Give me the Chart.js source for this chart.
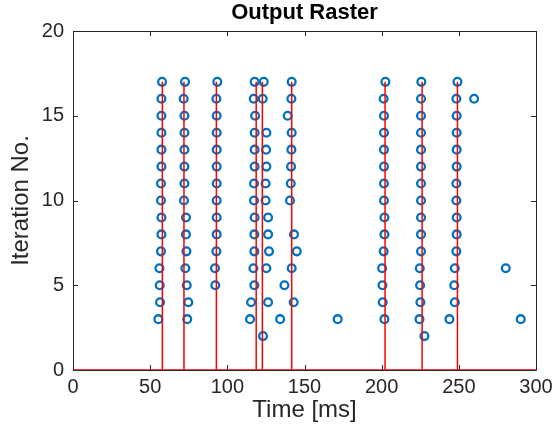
<!DOCTYPE html>
<html>
<head>
<meta charset="utf-8">
<script src="https://cdn.jsdelivr.net/npm/chart.js@4.4.1/dist/chart.umd.min.js"></script>
<style>
  html, body { margin: 0; padding: 0; background: #fff; }
</style>
</head>
<body>
<canvas id="raster" width="553" height="442"></canvas>
<script>
var row17 = [57.7, 72.6, 93.5, 117.7, 123.6, 141.7, 202.4, 225.7, 249.1];
var row16 = [57.3, 71.7, 92.9, 117.1, 122.9, 141.5, 201.3, 225.5, 248.4, 259.9];
var row15 = [57.3, 72.2, 93.1, 118.0, 139.1, 201.5, 225.5, 248.6];
var row14 = [57.3, 72.2, 93.1, 117.7, 125.3, 141.7, 201.5, 225.5, 248.6];
var row13 = [57.3, 72.2, 93.1, 117.7, 125.1, 141.5, 201.5, 225.5, 248.6];
var row12 = [57.3, 72.2, 93.1, 117.7, 125.3, 141.3, 201.5, 225.5, 248.6];
var row11 = [57.0, 72.2, 93.1, 117.3, 124.8, 141.1, 201.5, 225.5, 248.4];
var row10 = [57.0, 71.9, 93.1, 117.3, 124.8, 140.6, 201.5, 225.5, 248.4];
var row9  = [57.3, 73.2, 93.1, 117.7, 126.4, 201.8, 225.5, 248.6];
var row8  = [57.3, 73.2, 93.1, 117.5, 126.4, 143.2, 201.8, 225.5, 248.6];
var row7  = [57.0, 73.5, 92.9, 117.5, 127.0, 145.0, 201.3, 225.5, 248.4];
var row6  = [56.0, 72.8, 92.0, 116.9, 125.3, 141.7, 200.3, 224.7, 247.4, 280.4];
var row5  = [56.2, 73.7, 92.2, 117.5, 137.0, 200.5, 224.9, 247.0];
var row4  = [56.4, 74.7, 115.4, 126.4, 143.0, 200.7, 225.1, 247.4];
var row3  = [55.3, 74.0, 114.7, 134.2, 171.5, 201.8, 224.5, 243.9, 290.1];
var row2  = [123.1, 227.7];

var iterations = [17, 16, 15, 14, 13, 12, 11, 10, 9, 8, 7, 6, 5, 4, 3, 2];
var rows = [row17, row16, row15, row14, row13, row12, row11, row10, row9, row8, row7, row6, row5, row4, row3, row2];

// target spike times, drawn as red stems up to the last iteration
var targetTimes = [57.9, 71.9, 92.9, 118.7, 122.7, 141.7, 202.2, 226.2, 249.1];
var stemHeight = 17;

var xTicks = [0, 50, 100, 150, 200, 250, 300];
var yTicks = [0, 5, 10, 15, 20];

var rasterPoints = [];
for (var i = 0; i < rows.length; i++) {
  for (var j = 0; j < rows[i].length; j++) {
    rasterPoints.push({x: rows[i][j], y: iterations[i]});
  }
}

var stemPoints = [{x: 0, y: 0}];
for (var k = 0; k < targetTimes.length; k++) {
  stemPoints.push({x: targetTimes[k], y: 0});
  stemPoints.push({x: targetTimes[k], y: stemHeight});
  stemPoints.push({x: targetTimes[k], y: 0});
}
stemPoints.push({x: 300, y: 0});

var axisColor = '#262626';

// matlab style box with inward ticks
var boxPlugin = {
  id: 'boxTicks',
  beforeDatasetsDraw: function(chart) {
    var ctx = chart.ctx;
    var a = chart.chartArea;
    var xs = chart.scales.x, ys = chart.scales.y;
    var len = 5;
    ctx.save();
    ctx.strokeStyle = axisColor;
    ctx.lineWidth = 1;
    ctx.beginPath();
    ctx.rect(Math.round(a.left) + 0.5, Math.round(a.top) + 0.5,
             Math.round(a.right - a.left), Math.round(a.bottom - a.top));
    xTicks.forEach(function(v) {
      var px = Math.round(xs.getPixelForValue(v)) + 0.5;
      ctx.moveTo(px, a.bottom); ctx.lineTo(px, a.bottom - len);
      ctx.moveTo(px, a.top); ctx.lineTo(px, a.top + len);
    });
    yTicks.forEach(function(v) {
      var py = Math.round(ys.getPixelForValue(v)) + 0.5;
      ctx.moveTo(a.left, py); ctx.lineTo(a.left + len, py);
      ctx.moveTo(a.right, py); ctx.lineTo(a.right - len, py);
    });
    ctx.stroke();
    ctx.restore();
  }
};

Chart.defaults.font.family = "'Liberation Sans', Arial, sans-serif";

var ctx = document.getElementById('raster');
var chart = new Chart(ctx, {
  type: 'scatter',
  data: {
    datasets: [
      {
        label: 'target',
        data: stemPoints,
        showLine: true,
        borderColor: '#ff0000',
        borderWidth: 1.5,
        pointRadius: 0,
        tension: 0
      },
      {
        label: 'output',
        data: rasterPoints,
        showLine: false,
        pointStyle: 'circle',
        pointRadius: 3.9,
        pointBorderWidth: 2.3,
        pointBorderColor: '#0072bd',
        pointBackgroundColor: 'rgba(0,0,0,0)'
      }
    ]
  },
  options: {
    responsive: false,
    animation: false,
    layout: { padding: { top: 0, right: 17, bottom: 0, left: 0 } },
    plugins: {
      legend: { display: false },
      tooltip: { enabled: false },
      title: {
        display: true,
        fullSize: false,
        text: 'Output Raster',
        color: '#000',
        font: { size: 22, weight: 'bold' },
        padding: { top: 0, bottom: 4.6 }
      }
    },
    scales: {
      x: {
        type: 'linear',
        min: 0, max: 300,
        grid: { display: false, drawTicks: false },
        border: { display: false },
        ticks: { stepSize: 50, padding: 5, maxRotation: 0, color: axisColor, font: { size: 20 } },
        title: { display: true, text: 'Time [ms]', color: axisColor, font: { size: 24 }, padding: { top: 0, bottom: 17 } },
        afterFit: function(s) { s.height = 72; s.paddingRight = 0; s.paddingLeft = 0; }
      },
      y: {
        type: 'linear',
        min: 0, max: 20,
        grid: { display: false, drawTicks: false },
        border: { display: false },
        ticks: { stepSize: 5, padding: 9, color: axisColor, font: { size: 20 } },
        title: { display: true, text: 'Iteration No.', color: axisColor, font: { size: 24 }, padding: { top: 7, bottom: 0 } },
        afterFit: function(s) { s.width = 73; s.paddingTop = 0; s.paddingBottom = 0; }
      }
    }
  },
  plugins: [boxPlugin]
});
</script>
</body>
</html>
